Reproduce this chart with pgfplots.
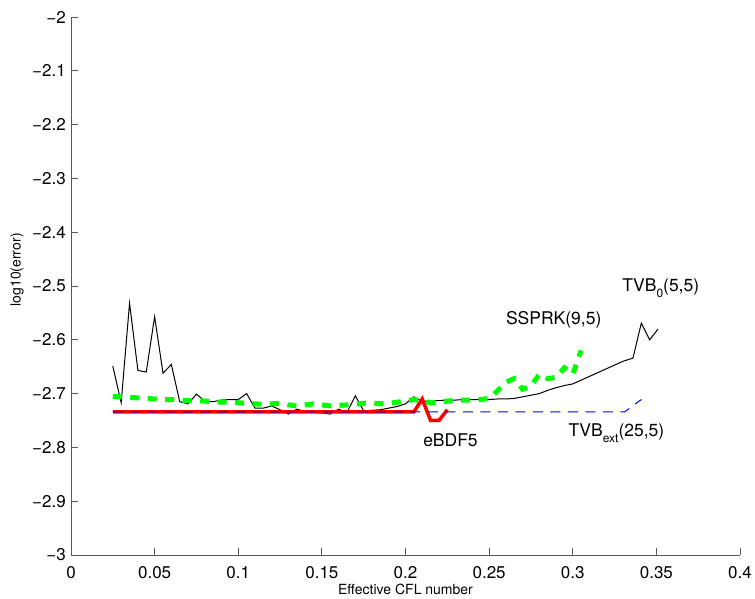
\documentclass[border=0pt]{standalone}
\usepackage{fontspec}
\setmainfont{TeX Gyre Heros}
\usepackage{pgfplots}
\pgfplotsset{compat=1.18}
\usetikzlibrary{calc}

\definecolor{axgray}{gray}{0.35}

\begin{document}
\begin{tikzpicture}
\begin{axis}[
  scale only axis,
  width=669pt, height=538pt,
  xmin=0, xmax=0.4, ymin=-3, ymax=-2,
  axis x line=bottom, axis y line=left,
  axis line style={-, axgray, line width=0.8pt},
  tick style={axgray, line width=0.8pt},
  tick align=inside, major tick length=7pt,
  xtick={0,0.05,0.1,0.15,0.2,0.25,0.3,0.35,0.4},
  xticklabels={0,0.05,0.1,0.15,0.2,0.25,0.3,0.35,0.4},
  ytick={-3,-2.9,-2.8,-2.7,-2.6,-2.5,-2.4,-2.3,-2.2,-2.1,-2},
  yticklabels={−3,−2.9,−2.8,−2.7,−2.6,−2.5,−2.4,−2.3,−2.2,−2.1,−2},
  tick label style={font=\fontsize{17}{17}\selectfont},
  xticklabel style={inner sep=0pt, yshift=-11pt},
  yticklabel style={inner sep=0pt, xshift=-5pt},
  clip=false,
]
% TVB_0(5,5)
\addplot[black, line width=1pt] coordinates {
 (0.025,-2.649) (0.030,-2.717) (0.035,-2.532) (0.040,-2.657) (0.045,-2.660)
 (0.050,-2.557) (0.055,-2.662) (0.060,-2.646) (0.065,-2.715) (0.070,-2.719)
 (0.075,-2.701) (0.080,-2.714) (0.085,-2.715) (0.090,-2.712) (0.095,-2.711)
 (0.100,-2.711) (0.105,-2.700) (0.110,-2.727) (0.115,-2.727) (0.120,-2.723)
 (0.125,-2.730) (0.130,-2.738) (0.135,-2.729) (0.140,-2.733) (0.145,-2.735)
 (0.150,-2.736) (0.155,-2.738) (0.160,-2.729) (0.165,-2.735) (0.170,-2.704)
 (0.175,-2.732) (0.180,-2.731) (0.185,-2.730) (0.190,-2.727) (0.195,-2.724)
 (0.200,-2.719) (0.205,-2.706) (0.210,-2.715) (0.215,-2.713) (0.220,-2.713)
 (0.225,-2.712) (0.230,-2.712) (0.235,-2.711) (0.240,-2.711) (0.245,-2.711)
 (0.250,-2.711) (0.255,-2.710) (0.260,-2.710) (0.265,-2.709) (0.270,-2.706)
 (0.275,-2.703) (0.280,-2.700) (0.285,-2.694) (0.290,-2.689) (0.295,-2.685)
 (0.300,-2.682) (0.305,-2.675) (0.310,-2.668) (0.315,-2.661) (0.320,-2.654)
 (0.325,-2.647) (0.330,-2.640) (0.336,-2.634) (0.341,-2.569) (0.346,-2.600)
 (0.351,-2.580)
};
% eBDF5
\addplot[red, line width=3.5pt] coordinates {
 (0.025,-2.734) (0.100,-2.734) (0.205,-2.734) (0.210,-2.710) (0.215,-2.750)
 (0.220,-2.750) (0.225,-2.730)
};
% TVB_ext(25,5)
\addplot[blue, line width=1pt, dash pattern=on 10pt off 7.5pt] coordinates {
 (0.025,-2.734) (0.331,-2.734) (0.341,-2.711)
};
% SSPRK(9,5)
\addplot[green, line width=5pt, dash pattern=on 9pt off 8.5pt] coordinates {
 (0.025,-2.705) (0.030,-2.706) (0.035,-2.707) (0.040,-2.708) (0.045,-2.709)
 (0.050,-2.710) (0.055,-2.711) (0.060,-2.711) (0.065,-2.712) (0.070,-2.713)
 (0.075,-2.713) (0.080,-2.714) (0.085,-2.715) (0.090,-2.716) (0.095,-2.716)
 (0.100,-2.717) (0.105,-2.718) (0.110,-2.719) (0.115,-2.720) (0.120,-2.719)
 (0.125,-2.718) (0.130,-2.721) (0.135,-2.723) (0.140,-2.721) (0.145,-2.719)
 (0.150,-2.721) (0.155,-2.723) (0.160,-2.722) (0.165,-2.721) (0.170,-2.720)
 (0.175,-2.718) (0.180,-2.717) (0.185,-2.719) (0.190,-2.718) (0.195,-2.716)
 (0.200,-2.714) (0.205,-2.711) (0.210,-2.714) (0.215,-2.717) (0.220,-2.716)
 (0.225,-2.714) (0.230,-2.712) (0.235,-2.712) (0.240,-2.712) (0.245,-2.711)
 (0.250,-2.709) (0.255,-2.695) (0.260,-2.679) (0.265,-2.672) (0.270,-2.692)
 (0.275,-2.686) (0.280,-2.664) (0.285,-2.672) (0.290,-2.670) (0.295,-2.652)
 (0.300,-2.664) (0.305,-2.620)
};

\node[anchor=west, inner sep=0pt, font=\fontsize{17.5}{17.5}\selectfont]
  at (axis cs:0.3295,-2.504) {TVB\raisebox{-0.32em}{\fontsize{12}{12}\selectfont 0}(5,5)};
\node[anchor=west, inner sep=0pt, font=\fontsize{17.5}{17.5}\selectfont]
  at (axis cs:0.2600,-2.563) {SSPRK(9,5)};
\node[anchor=west, inner sep=0pt, font=\fontsize{17.5}{17.5}\selectfont]
  at (axis cs:0.2105,-2.787) {eBDF5};
\node[anchor=west, inner sep=0pt, font=\fontsize{17.5}{17.5}\selectfont]
  at (axis cs:0.2974,-2.774) {TVB\raisebox{-0.32em}{\fontsize{12}{12}\selectfont ext}(25,5)};

% axis titles
\node[anchor=north, inner sep=0pt, font=\fontsize{14}{14}\selectfont]
  at (rel axis cs:0.5,-0.0539) {Effective CFL number};
\node[rotate=90, inner sep=0pt, font=\fontsize{14}{14}\selectfont]
  at (rel axis cs:-0.0807,0.53) {log10(error)};
\end{axis}
\pgfresetboundingbox
\useasboundingbox ($(current axis.south west)+(-71pt,-43pt)$) rectangle ($(current axis.north east)+(15pt,17pt)$);
\end{tikzpicture}
\end{document}
